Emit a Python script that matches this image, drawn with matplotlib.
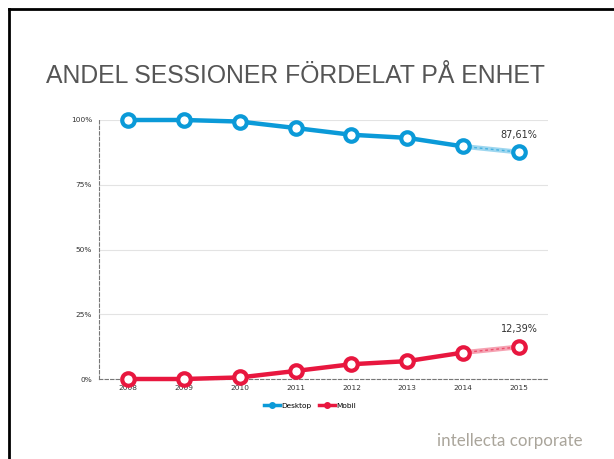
import numpy as np
import matplotlib.pyplot as plt
from matplotlib.lines import Line2D

years = ['2008', '2009', '2010', '2011', '2012', '2013', '2014', '2015']
desktop = [100.0, 100.0, 99.4, 96.9, 94.3, 93.1, 89.8, 87.61]
mobil = [0.0, 0.0, 0.6, 3.1, 5.7, 6.9, 10.2, 12.39]
yticks = [0, 25, 50, 75, 100]
ytick_labels = ['0%', '25%', '50%', '75%', '100%']

BLUE = '#0b9ad8'
RED = '#e8173f'

fig = plt.figure(figsize=(6.14, 4.59), dpi=100)
fig.patch.set_facecolor('white')

# ram runt bilden (bara topp och vänster syns)
fig.add_artist(Line2D([8.5 / 614, 8.5 / 614], [0, 1 - 8.5 / 459], color='black', lw=2))
fig.add_artist(Line2D([8.5 / 614, 1], [1 - 8.5 / 459, 1 - 8.5 / 459], color='black', lw=2))

fig.text(46 / 614, 1 - 76 / 459, 'ANDEL SESSIONER FÖRDELAT PÅ ENHET',
         fontsize=17.85, color='#555555', va='center', ha='left', family='Liberation Sans')

ax = fig.add_axes([99 / 614, 80 / 459, 449 / 614, 259 / 459])
x = np.arange(len(years))

for vals, col, name in [(desktop, BLUE, 'Desktop'), (mobil, RED, 'Mobil')]:
    # faktiska år
    ax.plot(x[:-1], vals[:-1], color=col, lw=3.2, marker='o', ms=9,
            mfc='white', mec=col, mew=3.0, clip_on=False, zorder=3, label=name)
    # prognos 2014-2015, ljusare
    ax.plot(x[-2:], vals[-2:], color=col, lw=3.5, alpha=0.4, clip_on=False, zorder=2)
    ax.plot(x[-2:], vals[-2:], color=col, lw=1.0, ls=(0, (2, 2)), alpha=0.6,
            clip_on=False, zorder=2)
    ax.plot(x[-1:], vals[-1:], color=col, lw=0, marker='o', ms=9,
            mfc='white', mec=col, mew=3.0, clip_on=False, zorder=4)
    ax.annotate(f'{vals[-1]:.2f}%'.replace('.', ','), (x[-1], vals[-1]),
                xytext=(0, 9), textcoords='offset points', ha='center', va='bottom',
                fontsize=7, color='#333333')

ax.set_xlim(-0.52, 7.52)
ax.set_ylim(0, 100)
ax.set_yticks(yticks)
ax.set_yticklabels(ytick_labels)
ax.set_xticks(x)
ax.set_xticklabels(years)
ax.tick_params(axis='both', length=0, labelsize=5.3, colors='#333333')
ax.tick_params(axis='x', pad=4)
ax.tick_params(axis='y', pad=5)
ax.grid(axis='y', color='#e3e3e3', lw=0.8)
ax.set_axisbelow(True)
for s in ['top', 'right']:
    ax.spines[s].set_visible(False)
for s in ['left', 'bottom']:
    ax.spines[s].set_color('#777777')
    ax.spines[s].set_linestyle((0, (3, 2)))
    ax.spines[s].set_linewidth(0.8)

handles = [Line2D([], [], color=BLUE, lw=2.5, marker='o', ms=4, mfc=BLUE, mec=BLUE),
           Line2D([], [], color=RED, lw=2.5, marker='o', ms=4, mfc=RED, mec=RED)]
ax.legend(handles, ['Desktop', 'Mobil'], loc='upper center', bbox_to_anchor=(0.47, -0.065),
          ncol=2, frameon=False, fontsize=5.3, handlelength=2.2, handletextpad=0.2,
          columnspacing=1.0)

fig.text(437 / 614, 1 - 441 / 459, 'intellecta corporate', fontsize=12.2,
         color='#aaa59b', family='Lato', va='center', ha='left')

fig.savefig('out.png', dpi=100, facecolor='white')
